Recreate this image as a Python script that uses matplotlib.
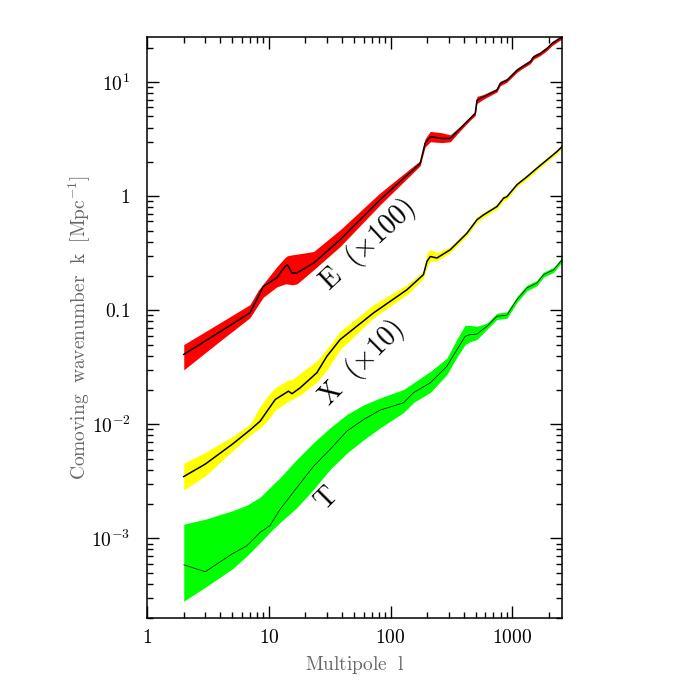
import numpy as np
import matplotlib
matplotlib.use('Agg')
from matplotlib import pyplot as plt
from matplotlib.ticker import FixedLocator, FixedFormatter, LogLocator, NullFormatter

plt.rcParams['font.family'] = ['DejaVu Serif']
plt.rcParams['mathtext.fontset'] = 'cm'

# T spectrum
t_ell = [2, 3, 5, 6.6, 8.5, 10.2, 12.4, 17, 23.3, 31.9, 43.8, 60, 82, 128, 154, 212,
         290, 351, 410, 450, 512, 618, 747, 903, 1091, 1318, 1592, 1803, 2183, 2557]
t_mid = [5.86e-4, 5.09e-4, 7.3e-4, 8.6e-4, 1.13e-3, 1.29e-3, 1.80e-3, 2.79e-3, 4.28e-3,
         6.03e-3, 8.72e-3, 0.0110, 0.0133, 0.01545, 0.0189, 0.0231, 0.0323, 0.0452,
         0.0591, 0.0611, 0.0618, 0.0723, 0.0885, 0.0906, 0.124, 0.157, 0.173, 0.205, 0.226, 0.277]
t_lo = [2.81e-4, 3.72e-4, 5.38e-4, 7.0e-4, 9.2e-4, 1.13e-3, 1.38e-3, 1.86e-3, 2.69e-3,
        4.03e-3, 5.6e-3, 7.3e-3, 9.3e-3, 0.0127, 0.0155, 0.0190, 0.0273, 0.039,
        0.050, 0.053, 0.0553, 0.068, 0.083, 0.085, 0.117, 0.148, 0.164, 0.195, 0.215, 0.265]
t_hi = [1.33e-3, 1.47e-3, 1.74e-3, 1.95e-3, 2.3e-3, 2.79e-3, 3.41e-3, 4.93e-3, 6.90e-3,
        9.33e-3, 0.0122, 0.0148, 0.0170, 0.0202, 0.0231, 0.0290, 0.0380, 0.056,
        0.0740, 0.0735, 0.0723, 0.077, 0.094, 0.097, 0.132, 0.166, 0.183, 0.216, 0.238, 0.29]

# X spectrum (x10)
x_ell = [2, 3, 5, 7, 8.5, 9.9, 11.3, 14.5, 15.5, 18.1, 24.8, 30, 38.5, 72.3, 136, 186,
         199, 212, 240, 309, 424, 512, 580, 747, 847, 903, 1091, 1318, 1592, 1923, 2325, 2557]
x_mid = [0.00348, 0.00447, 0.00667, 0.0089, 0.01067, 0.0135, 0.01651, 0.0195, 0.01853,
         0.0209, 0.0283, 0.0395, 0.0553, 0.0946, 0.151, 0.205, 0.268, 0.296, 0.287,
         0.339, 0.474, 0.621, 0.686, 0.811, 0.961, 0.99, 1.26, 1.48, 1.76, 2.08, 2.46, 2.72]
x_lo = [0.00265, 0.00352, 0.0058, 0.0080, 0.0093, 0.011, 0.0133, 0.0160, 0.0165, 0.018,
        0.0235, 0.030, 0.0452, 0.0857, 0.137, 0.19, 0.24, 0.27, 0.27, 0.32, 0.45,
        0.59, 0.65, 0.77, 0.91, 0.94, 1.20, 1.41, 1.68, 1.99, 2.36, 2.62]
x_hi = [0.00455, 0.00566, 0.0078, 0.0100, 0.0144, 0.018, 0.021, 0.0245, 0.0247, 0.028,
        0.036, 0.046, 0.0653, 0.112, 0.167, 0.22, 0.32, 0.34, 0.32, 0.36, 0.50,
        0.66, 0.72, 0.85, 1.01, 1.04, 1.32, 1.55, 1.84, 2.17, 2.56, 2.82]

# E spectrum (x100)
e_ell = [2, 4, 7, 8.2, 9.0, 11.6, 13.6, 14.2, 15.5, 17, 23.3, 38.5, 82, 175, 192, 212,
         264, 309, 373, 451, 496, 512, 580, 747, 795, 903, 1091, 1199, 1403, 1494, 1695,
         1923, 2114, 2325, 2557]
e_mid = [0.041, 0.065, 0.095, 0.132, 0.162, 0.192, 0.242, 0.250, 0.212, 0.212, 0.259,
         0.415, 0.93, 1.94, 2.91, 3.32, 3.21, 3.21, 3.93, 4.81, 5.32, 6.96, 7.44, 8.51,
         9.74, 10.4, 12.7, 13.6, 15.1, 16.6, 17.8, 19.7, 21.8, 23.3, 24.9]
e_lo = [0.030, 0.054, 0.086, 0.112, 0.13, 0.16, 0.17, 0.17, 0.167, 0.17, 0.226, 0.362,
        0.84, 1.85, 2.7, 3.0, 2.95, 3.0, 3.75, 4.65, 5.1, 6.5, 7.1, 8.2, 9.3, 10.0,
        12.2, 13.1, 14.5, 15.9, 17.1, 18.9, 20.9, 22.4, 23.9]
e_hi = [0.050, 0.078, 0.112, 0.150, 0.17, 0.24, 0.29, 0.30, 0.306, 0.31, 0.327, 0.507,
        1.07, 2.05, 3.2, 3.7, 3.6, 3.45, 4.1, 5.0, 5.6, 7.5, 7.8, 8.85, 10.2, 10.8,
        13.2, 14.1, 15.7, 17.3, 18.5, 20.5, 22.7, 24.2, 25.9]

fig = plt.figure(figsize=(6.81, 6.81), dpi=100)
ax = fig.add_axes([0.216, 0.0925, 0.609, 0.8535])

ax.fill_between(t_ell, t_lo, t_hi, color='#00ff00', lw=0)
ax.plot(t_ell, t_mid, color='black', lw=0.5)
ax.fill_between(x_ell, x_lo, x_hi, color='#ffff00', lw=0)
ax.plot(x_ell, x_mid, color='black', lw=1.1)
ax.fill_between(e_ell, e_lo, e_hi, color='#ff0000', lw=0)
ax.plot(e_ell, e_mid, color='black', lw=1.1)

ax.set_xscale('log')
ax.set_yscale('log')
ax.set_xlim(1, 2550)
ax.set_ylim(2e-4, 25)

ax.xaxis.set_major_locator(FixedLocator([1, 10, 100, 1000]))
ax.xaxis.set_major_formatter(FixedFormatter([r'$1$', r'$10$', r'$100$', r'$1000$']))
ax.xaxis.set_minor_locator(LogLocator(base=10, subs=np.arange(2, 10), numticks=20))
ax.xaxis.set_minor_formatter(NullFormatter())
ax.yaxis.set_major_locator(FixedLocator([1e-3, 1e-2, 0.1, 1, 10]))
ax.yaxis.set_major_formatter(FixedFormatter([r'$10^{-3}$', r'$10^{-2}$', r'$0.1$', r'$1$', r'$10^{1}$']))
ax.yaxis.set_minor_locator(LogLocator(base=10, subs=np.arange(2, 10), numticks=20))
ax.yaxis.set_minor_formatter(NullFormatter())

ax.tick_params(which='both', direction='in', top=True, right=True, width=1.0, labelsize=14)
ax.tick_params(which='major', length=8.5)
ax.tick_params(which='minor', length=4.3)
ax.tick_params(axis='x', which='major', pad=8)
ax.tick_params(axis='y', which='major', pad=12)
for s in ax.spines.values():
    s.set_linewidth(1.1)

ax.set_xlabel(r'$\mathrm{Multipole\ \ l}$', fontsize=14, color='#666666', labelpad=5)
ax.set_ylabel(r'$\mathrm{Comoving\ \ wavenumber\ \ k\ \ [Mpc^{-1}]}$', fontsize=14,
              color='#666666', labelpad=-1)

ax.text(65, 0.375, r'$\mathrm{E\ \ (\times 100)}$', rotation=43, ha='center', va='center',
        rotation_mode='anchor', fontsize=20)
ax.text(57, 0.0345, r'$\mathrm{X\ \ (\times 10)}$', rotation=45, ha='center', va='center',
        rotation_mode='anchor', fontsize=20)
ax.text(30.1, 2.2e-3, r'$\mathrm{T}$', rotation=45, ha='center', va='center',
        rotation_mode='anchor', fontsize=20)

fig.savefig('out.png', dpi=100)
